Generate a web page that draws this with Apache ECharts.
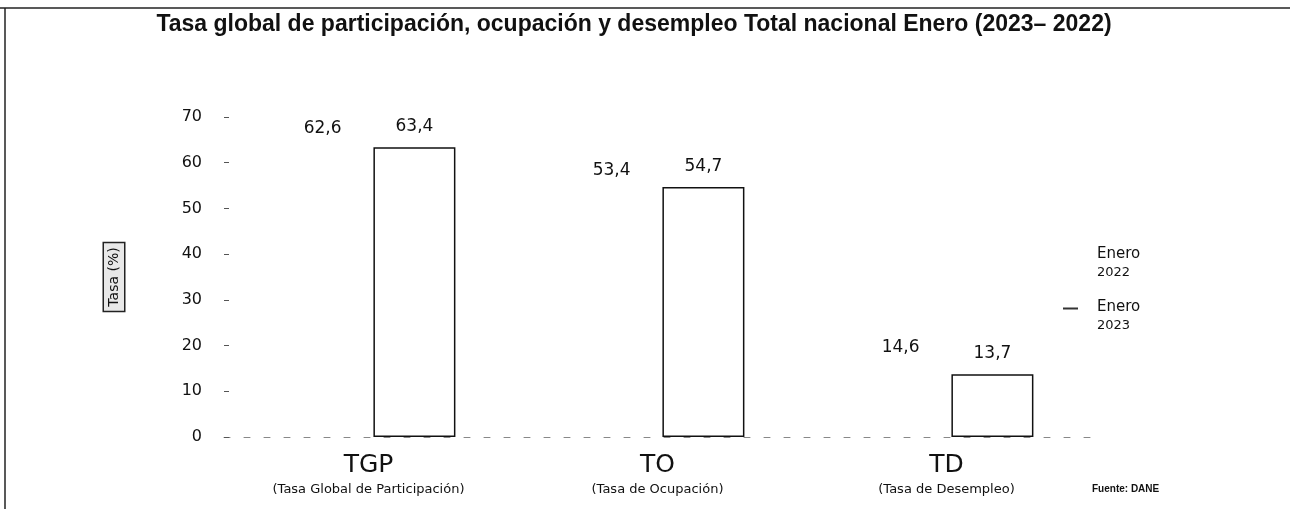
<!DOCTYPE html>
<html>
<head>
<meta charset="utf-8">
<script src="https://cdn.jsdelivr.net/npm/echarts@6/dist/echarts.min.js"></script>
<style>
html,body{margin:0;padding:0;background:#fff;}
#chart{width:1290px;height:509px;}
</style>
</head>
<body>
<div id="chart"></div>
<script>
var categories = ['TGP', 'TO', 'TD'];
var categoryNames = ['(Tasa Global de Participación)', '(Tasa de Ocupación)', '(Tasa de Desempleo)'];
var enero2022 = [62.6, 53.4, 14.6];
var enero2023 = [63.4, 54.7, 13.7];
var yTicks = [0, 10, 20, 30, 40, 50, 60, 70];

function coma(p) {
    return p.value.toFixed(1).replace('.', ',');
}

var chart = echarts.init(document.getElementById('chart'));
chart.setOption({
    backgroundColor: '#fff',
    animation: false,
    title: {
        text: 'Tasa global de participación, ocupación y desempleo Total nacional Enero (2023– 2022)',
        left: 629,
        textAlign: 'center',
        top: 8,
        textStyle: {
            fontFamily: 'Liberation Sans',
            fontSize: 23,
            fontWeight: 'bold',
            color: '#111'
        }
    },
    legend: {
        orient: 'vertical',
        left: 1058,
        top: 242,
        itemGap: 21,
        itemWidth: 15,
        itemHeight: 2,
        data: [
            {name: 'Enero 2022', icon: 'rect', itemStyle: {color: '#fff', borderWidth: 0}},
            {name: 'Enero 2023', icon: 'rect', itemStyle: {color: '#333', borderWidth: 0}}
        ],
        formatter: function (name) {
            var p = name.split(' ');
            return '{a|' + p[0] + '}\n{b|' + p[1] + '}';
        },
        textStyle: {
            padding: [16, 0, 0, 14],
            rich: {
                a: {fontFamily: 'DejaVu Sans', fontSize: 15, color: '#111', lineHeight: 18},
                b: {fontFamily: 'DejaVu Sans', fontSize: 13, color: '#111', lineHeight: 18}
            }
        }
    },
    grid: {
        left: 224,
        right: 199,
        top: 117,
        bottom: 72
    },
    xAxis: {
        type: 'category',
        data: categories,
        axisLine: {show: true, lineStyle: {color: '#888', width: 1, type: [6, 14]}},
        axisTick: {show: false},
        axisLabel: {
            margin: 14,
            formatter: function (v, i) {
                return '{a|' + v + '}\n{b|' + categoryNames[i] + '}';
            },
            rich: {
                a: {fontFamily: 'DejaVu Sans', fontSize: 25, color: '#111', lineHeight: 28},
                b: {fontFamily: 'DejaVu Sans', fontSize: 13, color: '#111', lineHeight: 22}
            }
        }
    },
    yAxis: {
        type: 'value',
        min: 0,
        max: 70,
        interval: 10,
        name: 'Tasa (%)',
        nameLocation: 'middle',
        nameRotate: 90,
        nameGap: 100,
        nameTextStyle: {
            fontFamily: 'DejaVu Sans',
            fontSize: 14,
            color: '#111',
            borderColor: '#222',
            borderWidth: 1.5,
            padding: [3, 4],
            backgroundColor: '#e8e8e8'
        },
        axisLine: {show: false},
        axisTick: {show: true, inside: true, length: 5, lineStyle: {color: '#555'}},
        splitLine: {show: false},
        axisLabel: {
            margin: 22,
            fontFamily: 'DejaVu Sans',
            fontSize: 16,
            color: '#111',
            formatter: function (v) {
                return yTicks.indexOf(v) >= 0 ? String(v) : '';
            }
        }
    },
    series: [
        {
            name: 'Enero 2022',
            type: 'bar',
            barWidth: 82,
            barGap: '12%',
            data: enero2022,
            itemStyle: {color: 'rgba(255,255,255,0)', borderWidth: 0},
            label: {
                show: true,
                position: 'top',
                distance: 14,
                formatter: coma,
                fontFamily: 'DejaVu Sans',
                fontSize: 17,
                color: '#111'
            }
        },
        {
            name: 'Enero 2023',
            type: 'bar',
            barWidth: 82,
            data: enero2023,
            itemStyle: {color: '#fff', borderColor: '#111', borderWidth: 1.5},
            label: {
                show: true,
                position: 'top',
                distance: 12,
                formatter: coma,
                fontFamily: 'DejaVu Sans',
                fontSize: 17,
                color: '#111'
            }
        }
    ],
    graphic: [
        {type: 'line', shape: {x1: 0, y1: 8, x2: 1290, y2: 8}, style: {stroke: '#222', lineWidth: 1.5}},
        {type: 'line', shape: {x1: 5, y1: 8, x2: 5, y2: 509}, style: {stroke: '#222', lineWidth: 1.5}},
        {type: 'text', left: 1092, top: 484, style: {text: 'Fuente: DANE', font: 'bold 10px "Liberation Sans"', fill: '#111'}}
    ]
});
</script>
</body>
</html>
